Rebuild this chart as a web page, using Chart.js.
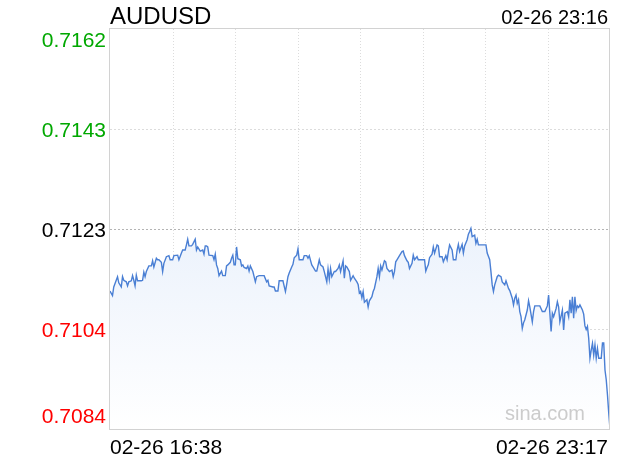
<!DOCTYPE html>
<html>
<head>
<meta charset="utf-8">
<script src="https://cdn.jsdelivr.net/npm/chart.js@4"></script>
<style>
html,body{margin:0;padding:0;background:#fff;}
#wrap{width:620px;height:460px;}
</style>
</head>
<body>
<div id="wrap"><canvas id="myChart" width="620" height="460"></canvas></div>
<script>
'use strict';

let symbol='AUDUSD';
let nowLabel='02-26 23:16';
let timeLabels=['02-26 16:38','02-26 23:17'];
let yTickLabels=['0.7162','0.7143','0.7123','0.7104','0.7084'];
let yTickValues=[0.71622,0.71427,0.71232,0.71037,0.70842];
let prevClose=0.71232;
let totalMinutes=399;

// minutes after 16:38
let minutes=[0,2,3,6,7,9,10,11,13,14,15,17,18,19,20,21,22,25,26,27,28,29,31,33,34,35,37,38,39,41,
42,43,45,47,48,50,51,54,55,57,58,60,61,62,63,65,66,68,69,70,72,74,75,76,77,78,79,82,83,84,
85,86,87,89,90,92,93,94,96,97,98,99,100,101,102,104,105,106,107,109,110,111,112,114,115,116,117,119,123,125,
126,127,130,131,132,134,135,138,140,141,142,143,145,146,147,149,150,151,154,155,157,158,159,161,162,164,165,167,168,170,
171,173,174,175,176,177,179,180,182,183,184,186,187,188,189,191,192,194,195,197,198,199,200,201,202,203,205,206,207,209,
210,211,213,214,215,216,217,219,220,221,223,225,226,227,228,229,231,233,234,235,237,238,239,241,242,243,245,246,251,252,
253,254,255,257,258,259,261,262,263,265,266,268,269,270,271,273,274,276,277,278,279,281,282,283,285,286,287,288,289,291,
292,293,294,300,301,303,304,305,306,307,309,310,312,313,315,316,318,319,321,322,323,324,325,326,327,328,329,330,331,333,
334,335,337,338,339,343,345,347,349,350,351,352,353,354,356,357,358,359,361,362,363,365,366,367,368,369,370,371,372,373,
374,375,377,378,379,380,381,382,383,384,385,386,387,388,389,390,392,393,394,395,396,397,398,399];

let prices=[0.71111,0.71102,0.71119,0.71139,0.71127,0.71119,0.71139,0.71132,0.71129,0.71121,0.71129,0.71131,0.71141,0.71132,0.71121,0.71142,0.71131,0.71131,0.71132,0.71148,0.71139,0.71149,0.71160,0.71160,0.71170,0.71158,0.71175,0.71172,0.71172,0.71167,
0.71149,0.71165,0.71178,0.71180,0.71172,0.71172,0.71180,0.71181,0.71172,0.71185,0.71191,0.71191,0.71201,0.71212,0.71199,0.71199,0.71202,0.71212,0.71191,0.71197,0.71189,0.71191,0.71183,0.71199,0.71199,0.71197,0.71181,0.71180,0.71172,0.71183,
0.71162,0.71155,0.71141,0.71150,0.71141,0.71141,0.71160,0.71162,0.71167,0.71175,0.71181,0.71162,0.71162,0.71197,0.71174,0.71172,0.71160,0.71162,0.71157,0.71155,0.71160,0.71150,0.71160,0.71149,0.71139,0.71129,0.71139,0.71141,0.71141,0.71129,
0.71132,0.71121,0.71119,0.71119,0.71111,0.71111,0.71131,0.71131,0.71110,0.71124,0.71139,0.71146,0.71158,0.71163,0.71176,0.71181,0.71193,0.71172,0.71172,0.71180,0.71180,0.71175,0.71180,0.71162,0.71158,0.71150,0.71150,0.71172,0.71162,0.71158,
0.71149,0.71129,0.71154,0.71134,0.71155,0.71139,0.71149,0.71149,0.71155,0.71162,0.71149,0.71170,0.71136,0.71160,0.71158,0.71149,0.71132,0.71141,0.71136,0.71129,0.71124,0.71107,0.71110,0.71098,0.71110,0.71089,0.71094,0.71080,0.71092,0.71100,
0.71110,0.71116,0.71139,0.71155,0.71139,0.71160,0.71152,0.71170,0.71168,0.71155,0.71149,0.71152,0.71139,0.71149,0.71168,0.71172,0.71180,0.71188,0.71189,0.71180,0.71170,0.71167,0.71155,0.71165,0.71181,0.71172,0.71178,0.71172,0.71172,0.71150,
0.71157,0.71162,0.71176,0.71183,0.71197,0.71185,0.71201,0.71199,0.71178,0.71178,0.71168,0.71180,0.71172,0.71188,0.71201,0.71191,0.71172,0.71172,0.71191,0.71202,0.71188,0.71202,0.71185,0.71199,0.71211,0.71222,0.71227,0.71233,0.71217,0.71220,
0.71204,0.71212,0.71201,0.71201,0.71185,0.71172,0.71149,0.71123,0.71110,0.71123,0.71139,0.71142,0.71139,0.71129,0.71123,0.71131,0.71116,0.71112,0.71097,0.71084,0.71097,0.71103,0.71087,0.71094,0.71071,0.71061,0.71038,0.71049,0.71055,0.71074,
0.71092,0.71080,0.71051,0.71071,0.71082,0.71082,0.71071,0.71071,0.71082,0.71103,0.71068,0.71032,0.71068,0.71061,0.71077,0.71090,0.71080,0.71051,0.71074,0.71035,0.71068,0.71071,0.71061,0.71094,0.71068,0.71100,0.71058,0.71100,0.71073,0.71082,
0.71079,0.71084,0.71074,0.71066,0.71043,0.71036,0.71042,0.71019,0.70980,0.70996,0.71009,0.70986,0.71006,0.70980,0.70999,0.70980,0.70980,0.71010,0.71010,0.70957,0.70938,0.70908,0.70873,0.70842];

let points=[];
for(let i=0;i<minutes.length;i++){
    points.push({x:minutes[i],y:prices[i]});
}

let fontName='"Liberation Sans", Arial, Helvetica, sans-serif';

function tickColor(v){
    if(v>prevClose+0.000001) return '#00a800';
    if(v<prevClose-0.000001) return '#ff0000';
    return '#000000';
}

////////////////////////////// grid, frame, watermark //////////////////////////////
let framePlugin={
    id:'frame',
    beforeDatasetsDraw(chart){
        let c=chart.ctx;
        let a=chart.chartArea;
        let y=chart.scales.y;
        c.save();
        c.lineWidth=1;
        // vertical dotted lines
        c.strokeStyle='#dcdcdc';
        c.setLineDash([1,2]);
        for(let i=1;i<8;i++){
            let x=Math.round(a.left+(a.right-a.left)*i/8)+0.5;
            c.beginPath();c.moveTo(x,a.top);c.lineTo(x,a.bottom);c.stroke();
        }
        // horizontal dotted lines
        c.setLineDash([2,2]);
        for(let i=1;i<yTickValues.length-1;i++){
            let py=Math.round(y.getPixelForValue(yTickValues[i]))+0.5;
            c.strokeStyle=(yTickValues[i]===prevClose)?'#b4b4b4':'#dcdcdc';
            c.beginPath();c.moveTo(a.left,py);c.lineTo(a.right,py);c.stroke();
        }
        c.restore();
    },
    afterDatasetsDraw(chart){
        // watermark sits on top of the fill
        let c=chart.ctx;
        let a=chart.chartArea;
        c.save();
        c.fillStyle='#cccccc';
        c.font='20px '+fontName;
        c.textAlign='right';
        c.textBaseline='alphabetic';
        c.fillText('sina.com',a.right-25,a.bottom-9);
        c.restore();
    },
    afterDraw(chart){
        let c=chart.ctx;
        let a=chart.chartArea;
        let y=chart.scales.y;
        c.save();
        // frame
        c.strokeStyle='#d2d2d2';
        c.lineWidth=1;
        c.strokeRect(a.left-0.5,a.top-0.5,a.right-a.left,a.bottom-a.top+1);
        // y labels
        c.font='21px '+fontName;
        c.textAlign='right';
        c.textBaseline='alphabetic';
        for(let i=0;i<yTickValues.length;i++){
            let base=y.getPixelForValue(yTickValues[i])+7.5;
            base=Math.max(a.top+18,Math.min(a.bottom-6,base));
            c.fillStyle=tickColor(yTickValues[i]);
            c.fillText(yTickLabels[i],a.left-4,base);
        }
        // time labels
        c.fillStyle='#000';
        c.textAlign='left';
        c.fillText(timeLabels[0],a.left,454);
        c.textAlign='right';
        c.fillText(timeLabels[1],a.right-2,454);
        // title and current time
        c.font='24px '+fontName;
        c.textAlign='left';
        c.fillText(symbol,a.left,24);
        c.font='20px '+fontName;
        c.textAlign='right';
        c.fillText(nowLabel,a.right-2,24);
        c.restore();
    }
};

let ctx=document.getElementById('myChart');
let myChart=new Chart(ctx,{
    type:'line',
    data:{
        datasets:[{
            label:symbol,
            data:points,
            borderColor:'#4a7fd4',
            borderWidth:1.4,
            pointRadius:0,
            tension:0,
            fill:'start',
            backgroundColor:function(context){
                let chart=context.chart;
                let a=chart.chartArea;
                if(!a) return 'rgba(220,232,250,0.6)';
                let g=chart.ctx.createLinearGradient(0,a.top,0,a.bottom);
                g.addColorStop(0,'#d8e5f9');
                g.addColorStop(1,'#ffffff');
                return g;
            }
        }]
    },
    options:{
        responsive:false,
        animation:false,
        layout:{padding:{left:110,right:10,top:29,bottom:31}},
        scales:{
            x:{type:'linear',min:0,max:totalMinutes,display:false},
            y:{min:yTickValues[4],max:yTickValues[0],display:false}
        },
        plugins:{
            legend:{display:false},
            tooltip:{enabled:false}
        }
    },
    plugins:[framePlugin]
});
</script>
</body>
</html>
